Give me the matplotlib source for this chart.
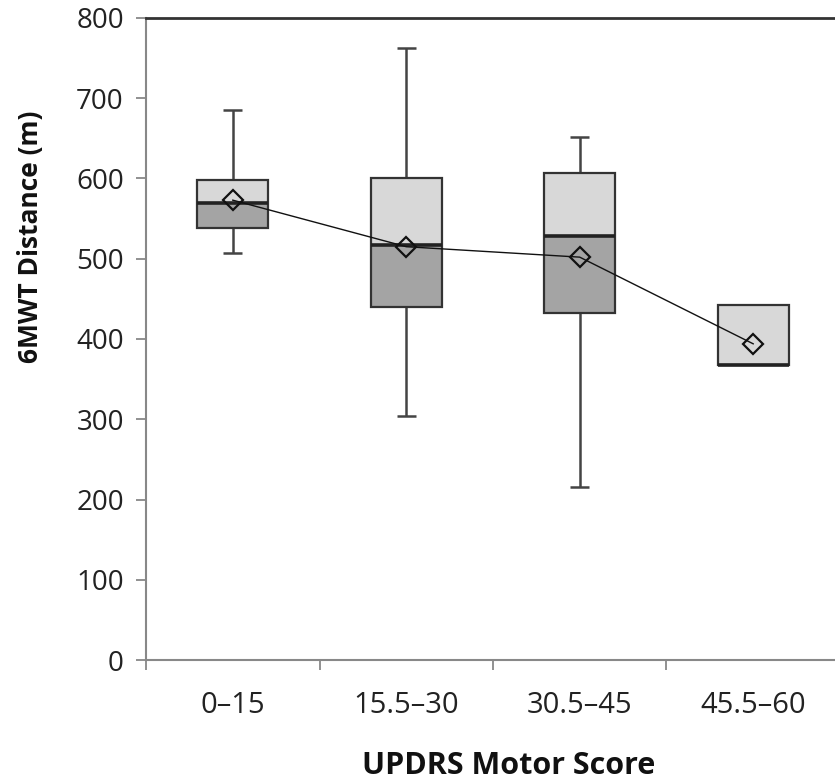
import numpy as np
import matplotlib
matplotlib.use("Agg")
from matplotlib import pyplot as plt

# UPDRS motor score groups and 6MWT distance summary (m)
categories = ["0\u201315", "15.5\u201330", "30.5\u201345", "45.5\u201360"]
whis_lo = [507, 304, 216, 368]
q1 = [538, 440, 432, 368]
median = [569, 517, 528, 368]
q3 = [598, 600, 607, 442]
whis_hi = [685, 763, 652, 442]
means = [573, 515, 502, 394]


def main():
    plt.rcParams['font.family'] = ['Open Sans', 'DejaVu Sans']

    fig = plt.figure(figsize=(8.35, 7.82), dpi=100)
    ax = fig.add_axes([0.1749, 0.156, 0.831, 0.821])

    x = np.arange(1, len(categories) + 1)
    w = 0.41
    lo, md, hi = np.array(q1), np.array(median), np.array(q3)

    # lower half (Q1 to median) darker, upper half (median to Q3) lighter
    ax.bar(x, md - lo, bottom=lo, width=w, color='#a4a4a4', zorder=2)
    ax.bar(x, hi - md, bottom=md, width=w, color='#d8d8d8', zorder=2)
    ax.bar(x, hi - lo, bottom=lo, width=w, fill=False, edgecolor='#333333',
           linewidth=1.6, zorder=3)
    ax.hlines(md, x - w / 2, x + w / 2, colors='#222222', linewidth=2.6, zorder=4)

    # whiskers and caps
    ax.vlines(x, whis_lo, lo, colors='#444444', linewidth=1.8, zorder=1)
    ax.vlines(x, hi, whis_hi, colors='#444444', linewidth=1.8, zorder=1)
    has_whis = np.array(whis_lo) < lo
    ax.hlines(np.array(whis_lo)[has_whis], x[has_whis] - 0.055, x[has_whis] + 0.055,
              colors='#444444', linewidth=1.8, zorder=1)
    has_whis = np.array(whis_hi) > hi
    ax.hlines(np.array(whis_hi)[has_whis], x[has_whis] - 0.055, x[has_whis] + 0.055,
              colors='#444444', linewidth=1.8, zorder=1)

    # means
    ax.plot(x, means, color='#111111', linewidth=1.0, marker='D', markersize=10,
            markerfacecolor='none', markeredgecolor='#111111', markeredgewidth=1.6,
            zorder=5)

    ax.set_xlim(0.5, 4.5)
    ax.set_ylim(0, 800)
    ax.set_yticks(np.arange(0, 801, 100))
    ax.set_xticks(x)
    ax.set_xticklabels(categories)
    ax.set_xticks(np.arange(0.5, 4.6, 1.0), minor=True)
    ax.tick_params(axis='x', which='major', length=0, pad=22, labelsize=21,
                   labelcolor='#222222')
    ax.tick_params(axis='x', which='minor', length=7, width=1.3, color='#888888')
    ax.tick_params(axis='y', length=7, width=1.3, color='#888888', labelsize=20,
                   labelcolor='#222222', pad=9)

    for side in ('left', 'bottom'):
        ax.spines[side].set_color('#888888')
        ax.spines[side].set_linewidth(1.5)
    ax.spines['top'].set_color('#333333')
    ax.spines['top'].set_linewidth(2.0)
    ax.spines['right'].set_visible(False)

    ax.set_xlabel("UPDRS Motor Score", fontsize=22, fontweight='bold',
                  va='baseline', color='#111111')
    ax.xaxis.set_label_coords(0.523, -0.178)
    ax.set_ylabel("6MWT Distance (m)", fontsize=19, fontweight='bold',
                  ha='center', va='center', color='#111111')
    ax.yaxis.set_label_coords(-0.167, 0.659)

    plt.savefig("out.png", dpi=100)
    plt.close()


if __name__ == "__main__":

    main()
